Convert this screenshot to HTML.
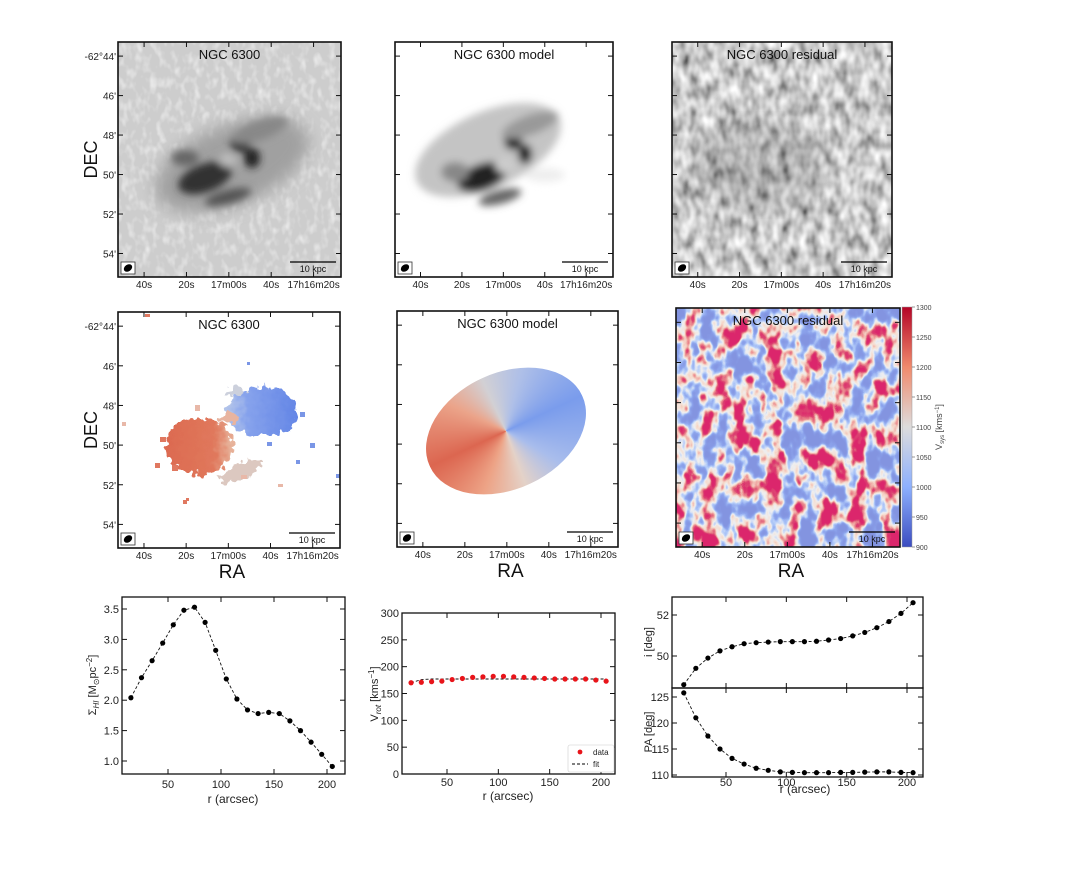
<!DOCTYPE html>
<html><head><meta charset="utf-8"><style>
body{margin:0;background:#fff;font-family:"Liberation Sans",sans-serif;}
#root{position:relative;width:1090px;height:872px;overflow:hidden;background:#fff;}
svg text{font-family:"Liberation Sans","DejaVu Sans",sans-serif;}
.cone{position:absolute;}
</style></head><body>
<div id="root">
<div class="cone" style="left:422px;top:373px;width:168px;height:116px;"></div>
<svg id="svg" width="1090" height="872" viewBox="0 0 1090 872" xmlns="http://www.w3.org/2000/svg" style="position:absolute;left:0;top:0;">
<defs>
  <filter id="grain" x="0" y="0" width="100%" height="100%">
    <feTurbulence type="fractalNoise" baseFrequency="0.14 0.09" numOctaves="2" seed="3"/>
    <feColorMatrix type="matrix" values="0 0 0 0 1  0 0 0 0 1  0 0 0 0 1  1.6 0 0 0 -0.72"/>
    <feComposite in2="SourceGraphic" operator="in"/>
  </filter>
  <filter id="resgray" x="0" y="0" width="100%" height="100%">
    <feTurbulence type="fractalNoise" baseFrequency="0.1 0.06" numOctaves="2" seed="7"/>
    <feColorMatrix type="matrix" values="1 0 0 0 0  1 0 0 0 0  1 0 0 0 0  0 0 0 0 1"/>
    <feComponentTransfer><feFuncR type="linear" slope="1.3" intercept="-0.05"/><feFuncG type="linear" slope="1.3" intercept="-0.05"/><feFuncB type="linear" slope="1.3" intercept="-0.05"/></feComponentTransfer>
    <feComposite in2="SourceGraphic" operator="in"/>
  </filter>
  <filter id="resvel" x="0" y="0" width="100%" height="100%">
    <feTurbulence type="fractalNoise" baseFrequency="0.06 0.04" numOctaves="3" seed="11"/>
    <feColorMatrix type="matrix" values="1 0 0 0 0  1 0 0 0 0  1 0 0 0 0  0 0 0 0 1"/>
    <feComponentTransfer>
      <feFuncR type="table" tableValues="0.23 0.23 0.23 0.23 0.23 0.23 0.23 0.24 0.27 0.45 0.86 0.92 0.85 0.72 0.71 0.71 0.71 0.71 0.71 0.71 0.71"/>
      <feFuncG type="table" tableValues="0.30 0.30 0.30 0.30 0.30 0.30 0.30 0.32 0.38 0.60 0.86 0.72 0.30 0.06 0.02 0.02 0.02 0.02 0.02 0.02 0.02"/>
      <feFuncB type="table" tableValues="0.75 0.75 0.75 0.75 0.75 0.75 0.75 0.78 0.85 0.95 0.87 0.62 0.30 0.17 0.15 0.15 0.15 0.15 0.15 0.15 0.15"/>
    </feComponentTransfer>
    <feComposite in2="SourceGraphic" operator="in"/>
  </filter>
  <filter id="blur4"><feGaussianBlur stdDeviation="4"/></filter>
  <filter id="blur8"><feGaussianBlur stdDeviation="8"/></filter>
  <filter id="rag" x="-20%" y="-20%" width="140%" height="140%">
    <feTurbulence type="fractalNoise" baseFrequency="0.15" numOctaves="2" seed="5" result="t"/>
    <feDisplacementMap in="SourceGraphic" in2="t" scale="14" xChannelSelector="R" yChannelSelector="G"/>
  </filter>
  <linearGradient id="redg" x1="0" x2="1"><stop offset="0" stop-color="#dc6a50"/><stop offset="0.7" stop-color="#e0785c"/><stop offset="1" stop-color="#e8b8a0"/></linearGradient>
  <linearGradient id="blueg" x1="0" x2="1"><stop offset="0" stop-color="#b8c8ea"/><stop offset="0.3" stop-color="#86a2ec"/><stop offset="1" stop-color="#6486e6"/></linearGradient>
  <linearGradient id="cbar" x1="0" y1="0" x2="0" y2="1"><stop offset="0" stop-color="#b40426"/><stop offset="0.25" stop-color="#f08a6c"/><stop offset="0.5" stop-color="#dddcdc"/><stop offset="0.75" stop-color="#8db0fe"/><stop offset="1" stop-color="#3b4cc0"/></linearGradient>
  <clipPath id="c1"><rect x="118" y="42" width="223" height="235"/></clipPath>
  <clipPath id="c2"><rect x="395" y="42" width="218" height="235"/></clipPath>
  <clipPath id="c3"><rect x="672" y="42" width="220" height="235"/></clipPath>
  <clipPath id="c4"><rect x="118" y="312" width="222" height="236"/></clipPath>
  <clipPath id="c6"><rect x="676" y="308" width="224" height="239"/></clipPath>
</defs>

<g clip-path="url(#c1)">
  <rect x="118" y="42" width="223" height="235" fill="#cdcdcd"/>
  <rect x="118" y="42" width="223" height="235" fill="#fff" filter="url(#grain)" opacity="0.8"/>
  <g filter="url(#blur8)">
    <ellipse cx="232" cy="165" rx="82" ry="40" fill="#a0a0a0" transform="rotate(-22 232 165)"/>
  </g>
  <g filter="url(#blur4)">
    <ellipse cx="205" cy="178" rx="28" ry="14" fill="#333" transform="rotate(-20 205 178)"/>
    <ellipse cx="240" cy="143" rx="10" ry="9" fill="#222"/>
    <ellipse cx="252" cy="158" rx="8" ry="10" fill="#222"/>
    <ellipse cx="228" cy="197" rx="24" ry="7" fill="#555" transform="rotate(-15 228 197)"/>
    <ellipse cx="185" cy="158" rx="14" ry="8" fill="#666"/>
    <ellipse cx="260" cy="130" rx="30" ry="10" fill="#888" transform="rotate(-20 260 130)"/>
    <ellipse cx="228" cy="160" rx="9" ry="7" fill="#bbb"/>
  </g>
</g>
<g clip-path="url(#c2)">
  <rect x="395" y="42" width="218" height="235" fill="#fff"/>
  <g filter="url(#blur4)">
    <ellipse cx="488" cy="150" rx="78" ry="38" fill="#c4c4c4" transform="rotate(-24 488 150)"/>
    <ellipse cx="482" cy="177" rx="26" ry="13" fill="#222" transform="rotate(-20 482 177)"/>
    <ellipse cx="513" cy="141" rx="9" ry="9" fill="#111"/>
    <ellipse cx="525" cy="154" rx="7" ry="10" fill="#111"/>
    <ellipse cx="500" cy="197" rx="22" ry="7" fill="#666" transform="rotate(-15 500 197)"/>
    <ellipse cx="455" cy="172" rx="14" ry="10" fill="#888"/>
    <ellipse cx="530" cy="125" rx="30" ry="10" fill="#999" transform="rotate(-20 530 125)"/>
    <ellipse cx="505" cy="165" rx="10" ry="8" fill="#ccc"/>
    <ellipse cx="545" cy="175" rx="20" ry="7" fill="#eee"/>
  </g>
</g>
<g clip-path="url(#c3)">
  <rect x="672" y="42" width="220" height="235" fill="#888" filter="url(#resgray)"/>
  <ellipse cx="760" cy="165" rx="70" ry="45" fill="#444" opacity="0.2" filter="url(#blur8)"/>
</g>

<g clip-path="url(#c4)">
  <g filter="url(#rag)">
    <ellipse cx="200" cy="446" rx="34" ry="28" fill="url(#redg)"/>
    <ellipse cx="262" cy="412" rx="35" ry="25" fill="url(#blueg)"/>
    <ellipse cx="240" cy="472" rx="22" ry="8" fill="#dcc8c0" transform="rotate(-25 240 472)"/>
    <ellipse cx="228" cy="418" rx="10" ry="6" fill="#e8b4a0"/>
    <ellipse cx="236" cy="392" rx="10" ry="5" fill="#ccd0dc"/>
  </g>
  <g fill="#e07860"><rect x="160" y="437" width="6" height="5"/><rect x="155" y="463" width="5" height="5"/><rect x="172" y="465" width="6" height="6"/><rect x="183" y="500" width="4" height="4"/><rect x="145" y="314" width="5" height="3"/><rect x="186" y="498" width="3" height="3"/></g>
  <g fill="#7a96e6"><rect x="300" y="412" width="5" height="5"/><rect x="310" y="443" width="5" height="5"/><rect x="296" y="460" width="4" height="4"/><rect x="267" y="442" width="5" height="4"/><rect x="336" y="474" width="4" height="4"/><rect x="247" y="362" width="3" height="3"/></g>
  <g fill="#e8b8a8"><rect x="195" y="405" width="5" height="6"/><rect x="122" y="422" width="4" height="4"/><rect x="278" y="484" width="5" height="3"/><rect x="241" y="475" width="6" height="4"/></g>
</g>
<g clip-path="url(#c6)">
  <rect x="676" y="308" width="224" height="239" fill="#888" filter="url(#resvel)"/>
</g>
<rect x="902" y="307" width="10" height="240" fill="url(#cbar)" stroke="#999" stroke-width="0.5"/>
<g id="map-axes"></g>
<g id="plots"></g>
</svg>
</div>
<script>
const radii = [15,25,35,45,55,65,75,85,95,105,115,125,135,145,155,165,175,185,195,205];
const sigmaHI = [2.04,2.37,2.65,2.94,3.24,3.48,3.53,3.28,2.82,2.35,2.02,1.84,1.78,1.80,1.78,1.66,1.50,1.31,1.11,0.91];
const vrotData = [170,171,172,173,176,178,180,181,182,182,181,180,179,178,177,177,177,177,175,173];
const vrotFit = [170,176,177,177,177,177,177,177,177,177,177,177,177,177,177,177,177,177,177,177];
const incl = [48.6,49.4,49.9,50.25,50.45,50.6,50.65,50.68,50.7,50.7,50.7,50.72,50.78,50.85,50.98,51.15,51.38,51.68,52.08,52.6];
const posAngle = [125.8,121,117.5,115,113.2,112.1,111.3,110.9,110.6,110.5,110.45,110.45,110.45,110.5,110.5,110.55,110.6,110.6,110.5,110.45];
const sigmaTicks = [1.0,1.5,2.0,2.5,3.0,3.5];
const vrotTicks = [0,50,100,150,200,250,300];
const inclTicks = [50,52];
const paTicks = [110,115,120,125];
const rTicks = [50,100,150,200];
const decLabels = ["-62°44'","46'","48'","50'","52'","54'"];
const raLabels = ["40s","20s","17m00s","40s","17h16m20s"];
const cbarTicks = [1300,1250,1200,1150,1100,1050,1000,950,900];

const NS='http://www.w3.org/2000/svg';
function mk(parent,tag,attrs,text){const e=document.createElementNS(NS,tag);for(const k in attrs)e.setAttribute(k,attrs[k]);if(text!==undefined)e.textContent=text;parent.appendChild(e);return e;}
const plots=document.getElementById('plots');
const maps=document.getElementById('map-axes');

const cone=document.querySelector('.cone');
cone.style.background='conic-gradient(from 0deg, #d2d0d4 0deg, #aebfe8 40deg, #7a9cec 90deg, #a9bdec 145deg, #e4d2c8 185deg, #eda386 225deg, #dc6650 270deg, #eba48a 320deg, #d2d0d4 360deg)';
cone.style.clipPath='ellipse(50% 50% at 50% 50%)';
cone.style.transform='rotate(-25deg)';

const panels=[
 {x0:118,y0:42,x1:341,y1:277,title:'NGC 6300',dec:true,ra:false,n:'mom0'},
 {x0:395,y0:42,x1:613,y1:277,title:'NGC 6300 model',dec:false,ra:false,n:'model'},
 {x0:672,y0:42,x1:892,y1:277,title:'NGC 6300 residual',dec:false,ra:false,n:'residual'},
 {x0:118,y0:312,x1:340,y1:548,title:'NGC 6300',dec:true,ra:true,n:'velocity'},
 {x0:397,y0:311,x1:618,y1:547,title:'NGC 6300 model',dec:false,ra:true,n:'velocity-model'},
 {x0:676,y0:308,x1:900,y1:547,title:'NGC 6300 residual',dec:false,ra:true,n:'velocity-residual'}];
panels.forEach(p=>{
  const g=mk(maps,'g',{});
  
  
  const w=p.x1-p.x0,h=p.y1-p.y0;
  const fr=mk(g,'rect',{x:p.x0,y:p.y0,width:w,height:h,fill:'none',stroke:'#111','stroke-width':1.6});
  
  
  const t=mk(g,'text',{x:p.x0+w/2,y:p.y0+17,'text-anchor':'middle','font-size':13,fill:'#111'},p.title);
  
  
  decLabels.forEach((lab,i)=>{
    const y=p.y0+h*(0.06+i*0.168);
    mk(g,'line',{x1:p.x0,x2:p.x0+5,y1:y,y2:y,stroke:'#111'});
    mk(g,'line',{x1:p.x1,x2:p.x1-5,y1:y,y2:y,stroke:'#111'});
    if(p.dec){const tl=mk(g,'text',{x:p.x0-2,y:y+4,'text-anchor':'end','font-size':10,fill:'#222'},lab);
      
      }
  });
  raLabels.forEach((lab,i)=>{
    const x=p.x0+w*(0.117+i*0.19);
    mk(g,'line',{x1:x,x2:x,y1:p.y1,y2:p.y1-5,stroke:'#111'});
    mk(g,'line',{x1:x,x2:x,y1:p.y0,y2:p.y0+5,stroke:'#111'});
    const tl=mk(g,'text',{x:x,y:p.y1+11,'text-anchor':'middle','font-size':10,fill:'#222'},lab);
    
    
  });
  const bx=mk(g,'rect',{x:p.x0+3,y:p.y1-15,width:14,height:12,fill:'#fff',stroke:'#333','stroke-width':0.8});
  
  
  mk(g,'ellipse',{cx:p.x0+10,cy:p.y1-9,rx:4.5,ry:3.3,fill:'#000',transform:`rotate(-35 ${p.x0+10} ${p.y1-9})`});
  const sb=mk(g,'line',{x1:p.x1-51,x2:p.x1-5,y1:p.y1-15,y2:p.y1-15,stroke:'#000','stroke-width':1.3});
  
  
  mk(g,'text',{x:p.x1-28,y:p.y1-5,'text-anchor':'middle','font-size':9,fill:'#111'},'10 kpc');
  if(p.dec){const d=mk(maps,'text',{x:97,y:p.y0+h/2,'text-anchor':'middle','font-size':18,fill:'#111',transform:`rotate(-90 97 ${p.y0+h/2})`},'DEC');
    
    }
  if(p.ra){const r=mk(maps,'text',{x:p.x0+w/2+3,y:p.y1+30,'text-anchor':'middle','font-size':19,fill:'#111'},'RA');
    
    }
});
cbarTicks.forEach((v,i)=>{
  const y=307+i*30;
  mk(maps,'line',{x1:912,x2:915,y1:y,y2:y,stroke:'#555','stroke-width':0.6});
  const t=mk(maps,'text',{x:916,y:y+3,'font-size':7,fill:'#444'},v);
  
  
});
{const t=mk(maps,'text',{x:942,y:427,'text-anchor':'middle','font-size':9,fill:'#444',transform:'rotate(-90 942 427)'});
 
 
 t.innerHTML='V<tspan font-size="6" dy="2">sys</tspan><tspan dy="-2"> [kms</tspan><tspan font-size="6" dy="-3">−1</tspan><tspan dy="3">]</tspan>';}

function axisFn(d0,d1,p0,p1){return v=>p0+(v-d0)*(p1-p0)/(d1-d0);}
function frame(x0,y0,x1,y1,name){const r=mk(plots,'rect',{x:x0,y:y0,width:x1-x0,height:y1-y0,fill:'none',stroke:'#111','stroke-width':1.3});
  
  }
function yticks(ticks,ys,x0,x1,fmt){ticks.forEach(v=>{const y=ys(v);
  mk(plots,'line',{x1:x0,x2:x0+5,y1:y,y2:y,stroke:'#111'});
  mk(plots,'line',{x1:x1,x2:x1-5,y1:y,y2:y,stroke:'#111'});
  const t=mk(plots,'text',{x:x0-3,y:y+4,'text-anchor':'end','font-size':11,fill:'#222'},fmt(v));
  
  });}
function xticks(xs,y0,y1,labels,ly){rTicks.forEach(v=>{const x=xs(v);
  mk(plots,'line',{x1:x,x2:x,y1:y1,y2:y1-5,stroke:'#111'});
  mk(plots,'line',{x1:x,x2:x,y1:y0,y2:y0+5,stroke:'#111'});
  if(labels){const t=mk(plots,'text',{x:x,y:ly,'text-anchor':'middle','font-size':11,fill:'#222'},v);
    
    }});}
function series(xs,ys,vals,name,color,dots,line){
  if(line){const pts=radii.map((r,i)=>xs(r)+','+ys(vals[i])).join(' ');
    const pl=mk(plots,'polyline',{points:pts,fill:'none',stroke:'#111','stroke-width':0.9,'stroke-dasharray':'3,2'});
    
    }
  if(dots){radii.forEach((r,i)=>{const c=mk(plots,'circle',{cx:xs(r),cy:ys(vals[i]),r:2.6,fill:color});
    
    });}
}
{const x0=122,x1=345,y0=597,y1=774;
 const xs=axisFn(50,200,168,327), ys=axisFn(1.0,3.5,761,609);
 frame(x0,y0,x1,y1,'surface-density-plot');
 yticks(sigmaTicks,ys,x0,x1,v=>v.toFixed(1));
 xticks(xs,y0,y1,true,788);
 series(xs,ys,sigmaHI,'sigma-hi','#000',true,true);
 const xl=mk(plots,'text',{x:233,y:803,'text-anchor':'middle','font-size':12,fill:'#222'},'r (arcsec)');
 
 
 const yl=mk(plots,'text',{x:96,y:685,'text-anchor':'middle','font-size':11,fill:'#222',transform:'rotate(-90 96 685)'});
 
 
 yl.innerHTML='Σ<tspan font-size="8" dy="3" font-style="italic">HI</tspan><tspan dy="-3"> [M</tspan><tspan font-size="8" dy="3">⊙</tspan><tspan dy="-3">pc</tspan><tspan font-size="8" dy="-4">−2</tspan><tspan dy="4">]</tspan>';
}
{const x0=402,x1=615,y0=613,y1=774;
 const xs=axisFn(50,200,447,601), ys=axisFn(0,300,774,613);
 frame(x0,y0,x1,y1,'rotation-curve-plot');
 yticks(vrotTicks,ys,x0,x1,v=>v);
 xticks(xs,y0,y1,true,786);
 series(xs,ys,vrotFit,'vrot-fit','#000',false,true);
 series(xs,ys,vrotData,'vrot-data','#e8141a',true,false);
 const xl=mk(plots,'text',{x:508,y:800,'text-anchor':'middle','font-size':12,fill:'#222'},'r (arcsec)');
 
 
 const yl=mk(plots,'text',{x:378,y:694,'text-anchor':'middle','font-size':11,fill:'#222',transform:'rotate(-90 378 694)'});
 
 
 yl.innerHTML='V<tspan font-size="8" dy="3" font-style="italic">rot</tspan><tspan dy="-3"> [kms</tspan><tspan font-size="8" dy="-4">−1</tspan><tspan dy="4">]</tspan>';
 const lg=mk(plots,'g',{});
 
 
 mk(lg,'rect',{x:568,y:745,width:46,height:27,fill:'#fff',stroke:'#ccc','stroke-width':0.6,rx:2});
 mk(lg,'circle',{cx:580,cy:752,r:2.4,fill:'#e8141a'});
 mk(lg,'text',{x:593,y:755,'font-size':8,fill:'#222'},'data');
 mk(lg,'line',{x1:572,x2:588,y1:764,y2:764,stroke:'#000','stroke-width':0.9,'stroke-dasharray':'3,2'});
 mk(lg,'text',{x:593,y:767,'font-size':8,fill:'#222'},'fit');
}
{const x0=672,x1=923;
 const xs=axisFn(50,200,726,907);
 const yi=axisFn(50,52,656,615), yp=axisFn(110,125,775,697);
 frame(x0,597,x1,688,'inclination-plot');
 frame(x0,688,x1,777,'position-angle-plot');
 yticks(inclTicks,yi,x0,x1,v=>v);
 yticks(paTicks,yp,x0,x1,v=>v);
 xticks(xs,597,688,false,0);
 xticks(xs,688,777,true,786);
 series(xs,yi,incl,'inclination','#000',true,true);
 series(xs,yp,posAngle,'position-angle','#000',true,true);
 const xl=mk(plots,'text',{x:805,y:793,'text-anchor':'middle','font-size':12,fill:'#222'},'r (arcsec)');
 
 
 const yl=mk(plots,'text',{x:652,y:642,'text-anchor':'middle','font-size':11,fill:'#222',transform:'rotate(-90 652 642)'},'i [deg]');
 
 
 const yl2=mk(plots,'text',{x:652,y:732,'text-anchor':'middle','font-size':11,fill:'#222',transform:'rotate(-90 652 732)'},'PA [deg]');
 
 
}
</script>
</body></html>
